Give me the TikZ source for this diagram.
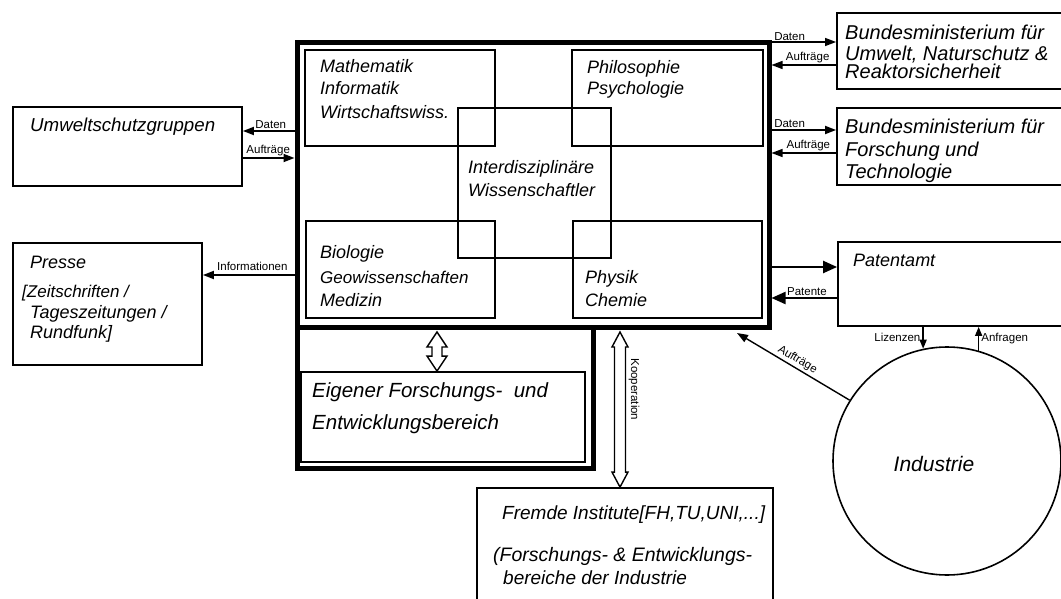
\documentclass[tikz,border=0pt]{standalone}
\usepackage{fontspec}
\setmainfont{Liberation Sans}
\usetikzlibrary{arrows.meta,calc}
\begin{document}
\begin{tikzpicture}[x=1pt,y=-1pt,
  box/.style={draw, line width=1.8pt, inner sep=0pt},
  thinbox/.style={draw, line width=1.2pt, inner sep=0pt},
  thickbox/.style={draw, line width=5pt, inner sep=0pt},
  txt/.style={inner sep=0pt, anchor=base west, font=\fontsize{18}{22}\selectfont\itshape},
  bigtxt/.style={txt, font=\fontsize{20}{24}\selectfont\itshape},
  midtxt/.style={txt, font=\fontsize{19}{23}\selectfont\itshape},
  lbl/.style={inner sep=0pt, font=\fontsize{11.5}{13}\selectfont},
  arr/.style={line width=1.8pt, -{Triangle[length=11pt,width=8pt]}},
  bigarr/.style={line width=2.2pt, -{Triangle[length=14pt,width=12pt]}},
  smallarr/.style={line width=1.5pt, -{Triangle[length=9pt,width=7pt]}},
  dblarr/.style={line width=1.4pt, line join=miter}]
\useasboundingbox (0,0) rectangle (1061,599);
\clip (0,0) rectangle (1061,599);

% main structure
\node[thickbox, minimum width=296pt, minimum height=141pt] (eigout) at (445,397.5) {};
\node[thickbox, minimum width=472pt, minimum height=284pt] (main) at (533,185) {};
\node[box, minimum width=284pt, minimum height=90pt] (eigin) at (443,417) {};

\node[thinbox, minimum width=190pt, minimum height=96pt] (math) at (400,98) {};
\node[thinbox, minimum width=191pt, minimum height=96pt] (phil) at (667.5,98) {};
\node[thinbox, minimum width=189pt, minimum height=97pt] (bio) at (400.5,269.5) {};
\node[thinbox, minimum width=189pt, minimum height=97pt] (phys) at (667.5,269.5) {};
\node[thinbox, minimum width=153pt, minimum height=150pt] (inter) at (534.5,183) {};

% outer boxes
\node[box, minimum width=229pt, minimum height=79pt] (umw) at (127.5,146.5) {};
\node[box, minimum width=189pt, minimum height=122pt] (presse) at (107.5,304) {};
\node[box, minimum width=243pt, minimum height=76pt] (bmu) at (958.5,51) {};
\node[box, minimum width=243pt, minimum height=77pt] (bmft) at (958.5,146.5) {};
\node[box, minimum width=242pt, minimum height=84pt] (patent) at (959,284) {};
\node[box, minimum width=296pt, minimum height=132pt] (fremde) at (625,554) {};
\node[draw, circle, line width=1.6pt, inner sep=0pt, minimum size=228pt] (ind) at (947,461) {};
\coordinate (auftip) at (737,333);

% texts
\node[txt] (t1) at (320,72.5) {Mathematik};
\node[txt] (t2) at (320,95) {Informatik};
\node[txt] (t3) at (320,118.5) {Wirtschaftswiss.};
\node[txt] (t4) at (587,73.5) {Philosophie};
\node[txt] (t5) at (587,95) {Psychologie};
\node[txt] (t6) at (468,173.5) {Interdisziplinäre};
\node[txt] (t7) at (468,196.5) {Wissenschaftler};
\node[txt] (t8) at (320,258.5) {Biologie};
\node[txt, font=\fontsize{17}{22}\selectfont\itshape] (t9) at (320,283.5) {Geowissenschaften};
\node[txt] (t10) at (320,306.5) {Medizin};
\node[txt] (t11) at (585,283.5) {Physik};
\node[txt] (t12) at (585,306.5) {Chemie};
\node[txt, font=\fontsize{18.7}{22}\selectfont\itshape] (t13) at (30,131.5) {Umweltschutzgruppen};
\node[txt] (t14) at (30,268) {Presse};
\node[txt, font=\fontsize{17}{22}\selectfont\itshape] (t15) at (22,297.5) {[Zeitschriften /};
\node[txt] (t16) at (30,318) {Tageszeitungen /};
\node[txt] (t17) at (30,338) {Rundfunk]};
\node[bigtxt] (t18) at (845,40) {Bundesministerium für};
\node[bigtxt] (t19) at (845,61) {Umwelt, Naturschutz \&};
\node[bigtxt] (t20) at (845,79) {Reaktorsicherheit};
\node[bigtxt] (t21) at (845,133.5) {Bundesministerium für};
\node[bigtxt] (t22) at (845,156.5) {Forschung und};
\node[bigtxt] (t23) at (845,178.5) {Technologie};
\node[txt] (t24) at (853,266.5) {Patentamt};
\node[txt, anchor=base, font=\fontsize{21}{24}\selectfont\itshape] (t25) at (934,471.5) {Industrie};
\node[bigtxt, font=\fontsize{20.5}{24}\selectfont\itshape] (t26) at (312,397) {Eigener Forschungs-\ \ und};
\node[bigtxt, font=\fontsize{20.5}{24}\selectfont\itshape] (t27) at (312,429) {Entwicklungsbereich};
\node[midtxt] (t28) at (502,519.5) {Fremde Institute[FH,TU,UNI,...]};
\node[midtxt, font=\fontsize{19.5}{23}\selectfont\itshape] (t29) at (493,561.5) {(Forschungs- \& Entwicklungs-};
\node[midtxt] (t30) at (503,584.5) {bereiche der Industrie};

% connectors
\draw[arr] (main.west |- 0,131) -- (umw.east |- 0,131) node[lbl, pos=0.46, above=1pt] (l1) {Daten};
\draw[arr] (umw.east |- 0,158) -- (main.west |- 0,158) node[lbl, pos=0.49, above=1pt] (l2) {Aufträge};
\draw[arr] (main.west |- 0,275) -- (presse.east |- 0,275) node[lbl, pos=0.46, above=3pt] (l3) {Informationen};

\draw[arr, line width=1.3pt] (main.east |- 0,42) -- (bmu.west |- 0,42) node[lbl, pos=0.28, above=1pt] (l4) {Daten};
\draw[arr, line width=1.3pt] (bmu.west |- 0,65) -- (main.east |- 0,65) node[lbl, pos=0.44, above=1pt] (l5) {Aufträge};
\draw[arr] (main.east |- 0,130) -- (bmft.west |- 0,130) node[lbl, pos=0.28, above=1pt] (l6) {Daten};
\draw[arr, line width=1.3pt] (bmft.west |- 0,153) -- (main.east |- 0,153) node[lbl, pos=0.43, above=1pt] (l7) {Aufträge};

\draw[bigarr] (main.east |- 0,267) -- (patent.west |- 0,267);
\draw[bigarr] (patent.west |- 0,298) -- (main.east |- 0,298) node[lbl, pos=0.46, above=1pt] (l8) {Patente};

\draw[smallarr] (patent.south -| ind.102.7) -- (ind.102.7) node[lbl, pos=0.5, left=2pt] (l9) {Lizenzen};
\draw[smallarr] (ind.74.7) -- (patent.south -| ind.74.7) node[lbl, pos=0.5, right=2pt] (l10) {Anfragen};
\draw[line width=1.4pt, -{Triangle[length=11pt,width=8pt]}] (ind.148.4) -- (auftip) node[lbl, pos=0.5, above=2pt, sloped] (l11) {Aufträge};

% double arrows (outlined)
\coordinate (d1a) at ($(main.south -| 437,0)+(0,2.5)$);
\coordinate (d1b) at (eigin.north -| 437,0);
\draw[dblarr] (d1a) -- ++(10,15) -- ++(-5,0) -- ($(d1b)+(5,-15)$) -- ++(5,0) -- (d1b)
  -- ++(-10,-15) -- ++(5,0) -- ($(d1a)+(-5,15)$) -- ++(-5,0) -- cycle;
\coordinate (d2a) at ($(main.south -| 620,0)+(0,2.5)$);
\coordinate (d2b) at (fremde.north -| 620,0);
\draw[dblarr] (d2a) -- ++(8,15) -- ++(-2.5,0) -- ($(d2b)+(5.5,-15)$) -- ++(2.5,0) -- (d2b)
  -- ++(-8,-15) -- ++(2.5,0) -- ($(d2a)+(-5.5,15)$) -- ++(-2.5,0) -- cycle
  node[lbl, rotate=-90] (l12) at ($(d2a)!0.37!(d2b)+(14,0)$) {Kooperation};
\end{tikzpicture}
\end{document}
